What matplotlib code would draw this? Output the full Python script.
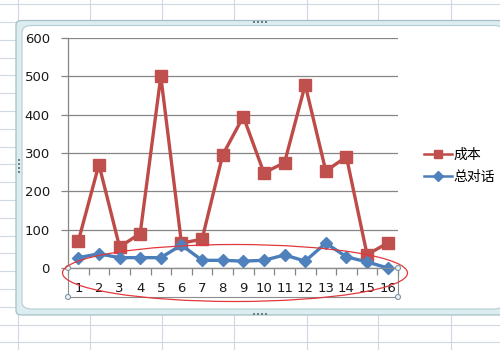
import matplotlib
matplotlib.use("Agg")
import matplotlib.pyplot as plt
from matplotlib.patches import FancyBboxPatch, Ellipse, Rectangle
from matplotlib.lines import Line2D

plt.rcParams['font.family'] = ['Noto Sans CJK SC', 'DejaVu Sans']

# Data
days = [str(i) for i in range(1, 17)]
cost = [70, 270, 55, 90, 500, 65, 75, 295, 395, 248, 275, 478, 253, 290, 35, 65]
talks = [27, 37, 27, 27, 27, 60, 20, 20, 18, 20, 34, 18, 65, 29, 16, 0]
series_names = ["成本", "总对话"]
y_ticks = [0, 100, 200, 300, 400, 500, 600]

W, H = 500, 350
fig = plt.figure(figsize=(W / 100, H / 100), dpi=100)
fig.patch.set_facecolor("white")


def fx(x):
    return x / W


def fy(y):
    return 1 - y / H


# spreadsheet grid behind the chart
grid_col = "#d0d7e5"
for x in [18, 90, 162, 234, 307, 378, 451]:
    fig.add_artist(Line2D([fx(x), fx(x)], [0, 1], color=grid_col, lw=0.8, zorder=-5))
y = 4.1
while y < H:
    fig.add_artist(Line2D([0, 1], [fy(y), fy(y)], color=grid_col, lw=0.8, zorder=-5))
    y += 17.8

# chart frame (selected state)
outer = FancyBboxPatch((fx(16), fy(315)), fx(504 - 16), (315 - 20.5) / H,
                       boxstyle="round,pad=0,rounding_size=0.012",
                       transform=fig.transFigure, facecolor="#dcedf0",
                       edgecolor="#a6bfc6", lw=0.9, zorder=-4)
inner = FancyBboxPatch((fx(22), fy(309)), fx(504 - 22), (309 - 25.5) / H,
                       boxstyle="round,pad=0,rounding_size=0.02",
                       transform=fig.transFigure, facecolor="white",
                       edgecolor="#b5cdd4", lw=0.8, zorder=-3)
fig.add_artist(outer)
fig.add_artist(inner)
for x0, y0 in [(253, 21.5), (253, 313.5)]:
    for k in range(4):
        fig.add_artist(Rectangle((fx(x0 + 4 * k), fy(y0 + 1)), fx(2), 2 / H,
                                 transform=fig.transFigure, color="#6f7f86",
                                 lw=0, zorder=-2))
for k in range(4):
    fig.add_artist(Rectangle((fx(17.5), fy(160 + 4 * k + 1)), fx(2), 2 / H,
                             transform=fig.transFigure, color="#6f7f86",
                             lw=0, zorder=-2))

# plot area
ax = fig.add_axes([fx(68), fy(268), fx(398 - 68), (268 - 38) / H])
ax.set_zorder(2)
ax.set_facecolor("none")
x = list(range(1, len(days) + 1))
ax.plot(x, cost, color="#be4b48", lw=2.4, marker="s", markersize=8,
        markerfacecolor="#c0504d", markeredgecolor="#c0504d",
        label=series_names[0], clip_on=False, zorder=3)
ax.plot(x, talks, color="#4a7ebb", lw=2.4, marker="D", markersize=6.5,
        markerfacecolor="#4f81bd", markeredgecolor="#4f81bd",
        label=series_names[1], clip_on=False, zorder=3)

ax.set_xlim(0.5, 16.5)
ax.set_ylim(0, 600)
ax.set_yticks(y_ticks)
ax.set_yticklabels([str(v) for v in y_ticks], fontsize=9.5, color="#1a1a1a",
                   family=['DejaVu Sans'])
ax.yaxis.grid(True, color="#868686", lw=0.9)
ax.set_axisbelow(True)

ax.set_xticks([i + 0.5 for i in range(0, 17)])
ax.set_xticklabels([])
ax.set_xticks(x, minor=True)
ax.set_xticklabels(days, minor=True, fontsize=9.5, color="#1a1a1a",
                   family=['DejaVu Sans'])
ax.tick_params(axis="x", which="major", direction="out", length=5,
               color="#868686", width=0.9)
ax.tick_params(axis="x", which="minor", length=0, pad=10)
ax.tick_params(axis="y", direction="out", length=5, color="#868686",
               width=0.9, pad=8)

for side in ["top", "right"]:
    ax.spines[side].set_visible(False)
for side in ["left", "bottom"]:
    ax.spines[side].set_color("#868686")
    ax.spines[side].set_linewidth(0.9)

# selected category axis box with handles
fig.add_artist(Rectangle((fx(68), fy(297)), fx(330), 29 / H,
                         transform=fig.transFigure, fill=False,
                         edgecolor="#8c8c8c", lw=0.8, zorder=4))
for hx, hy in [(68, 268), (68, 297), (398, 268), (398, 297)]:
    fig.add_artist(Ellipse((fx(hx), fy(hy)), fx(5), 5 / H,
                           transform=fig.transFigure, facecolor="#eef3f5",
                           edgecolor="#7e95a4", lw=0.8, zorder=5))

# legend
leg = ax.legend(loc="center left", bbox_to_anchor=(fx(417), fy(166)),
                bbox_transform=fig.transFigure, frameon=False, borderpad=0,
                fontsize=10, handlelength=2.0, handletextpad=0.1,
                labelspacing=0.6, markerscale=0.75)
for line in leg.get_lines():
    line.set_linewidth(1.8)

# red annotation ellipse
fig.add_artist(Ellipse((fx(235), fy(273)), fx(345), 57 / H,
                       transform=fig.transFigure, fill=False,
                       edgecolor="#e2383c", lw=0.9, zorder=6))

fig.savefig("out.png", dpi=100)
